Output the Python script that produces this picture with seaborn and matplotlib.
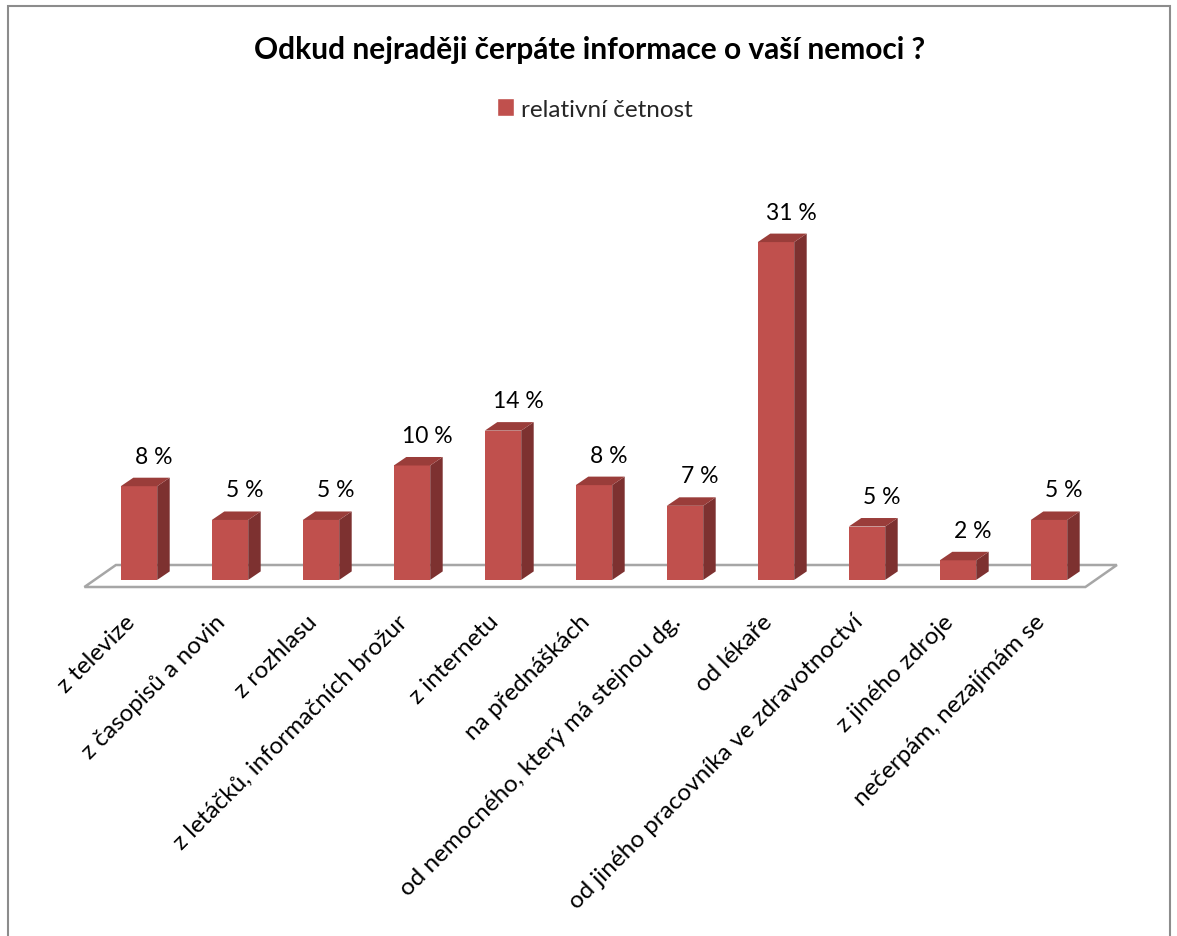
import matplotlib
matplotlib.use("Agg")
import matplotlib.pyplot as plt
import seaborn as sns
import pandas as pd
from matplotlib.patches import Polygon, Rectangle, Patch
from matplotlib.transforms import ScaledTranslation

categories = [
    "z televize",
    "z časopisů a novin",
    "z rozhlasu",
    "z letáčků, informačních brožur",
    "z internetu",
    "na přednáškách",
    "od nemocného, který má stejnou dg.",
    "od lékaře",
    "od jiného pracovníka ve zdravotnoctví",
    "z jiného zdroje",
    "nečerpám, nezajímám se",
]
values = [8.6, 5.5, 5.5, 10.5, 13.7, 8.7, 6.8, 31.0, 4.9, 1.8, 5.5]
value_labels = ["8 %", "5 %", "5 %", "10 %", "14 %", "8 %", "7 %", "31 %", "5 %", "2 %", "5 %"]
series_name = "relativní četnost"
title = "Odkud nejraději čerpáte informace o vaší nemoci ?"

FRONT = "#C0504D"
TOP = "#9A3D3A"
SIDE = "#7D3130"
GRID = "#A6A6A6"

sns.set_theme(style="white")
plt.rcParams["font.family"] = ["Lato", "DejaVu Sans"]

W, H = 1177, 937
fig = plt.figure(figsize=(W / 100, H / 100), dpi=100)
ax = fig.add_axes([84.4 / W, (H - 588) / H, 1001 / W, (588 - 221.3) / H])

df = pd.DataFrame({"cat": categories, "val": values})
sns.barplot(data=df, x="cat", y="val", color=FRONT, width=0.4, saturation=1,
            edgecolor="none", linewidth=0, ax=ax, zorder=3)
ax.set_xlim(-0.6, 10.4)
ax.set_ylim(-0.65, 33)

T = ax.transData
inv = T.inverted()

# floor (3D-looking plane)
fx0, fx1, fy = -0.6, 10.4, -0.65
fl = T.transform([(fx0, fy), (fx1, fy)])
fdx, fdy = 31.5, 22.0
floor_disp = [fl[0], fl[1], (fl[1][0] + fdx, fl[1][1] + fdy), (fl[0][0] + fdx, fl[0][1] + fdy)]
ax.add_patch(Polygon(inv.transform(floor_disp), closed=True, facecolor="white",
                     edgecolor=GRID, linewidth=1.8, zorder=1, clip_on=False))

# bar depth faces
ddx, ddy = 12.5, 8.5
for p, lab in zip(ax.patches[:len(values)], value_labels):
    x0, w, h = p.get_x(), p.get_width(), p.get_height()
    bl, br, tr, tl = T.transform([(x0, 0), (x0 + w, 0), (x0 + w, h), (x0, h)])
    side = [br, tr, (tr[0] + ddx, tr[1] + ddy), (br[0] + ddx, br[1] + ddy)]
    top = [tl, tr, (tr[0] + ddx, tr[1] + ddy), (tl[0] + ddx, tl[1] + ddy)]
    ax.add_patch(Polygon(inv.transform(side), closed=True, facecolor=SIDE,
                         edgecolor="none", zorder=3, clip_on=False))
    ax.add_patch(Polygon(inv.transform(top), closed=True, facecolor=TOP,
                         edgecolor="none", zorder=3, clip_on=False))
    ax.annotate(lab, xy=(x0 + w / 2, h), xytext=(15 * 0.72, 30 * 0.72),
                textcoords="offset points", ha="center", va="center",
                fontsize=16.5, color="black")

for s in ax.spines.values():
    s.set_visible(False)
ax.set_yticks([])
ax.set_xlabel("")
ax.set_ylabel("")
ax.tick_params(axis="x", length=0, pad=17, labelsize=17.5)
ax.set_xticks(range(len(categories)))
ax.set_xticklabels(categories, rotation=45, ha="right", rotation_mode="anchor")
for t in ax.get_xticklabels():
    t.set_transform(t.get_transform() + ScaledTranslation(-15 / 100, 0, fig.dpi_scale_trans))
    t.set_color("black")

fig.text(590 / W, 1 - 50 / H, title, ha="center", va="center", fontsize=21.5,
         fontweight="bold", color="black")
fig.legend(handles=[Patch(facecolor=FRONT, label=series_name)], loc="center",
           bbox_to_anchor=(595 / W, 1 - 110 / H), frameon=False, fontsize=17.5,
           handlelength=0.7, handleheight=0.7, handletextpad=0.3)

fig.patches.append(Rectangle((8 / W, -0.02), (1170 - 8) / W, 1 - 7 / H + 0.02,
                             transform=fig.transFigure, fill=False,
                             edgecolor="#8C8C8C", linewidth=1.5))

fig.savefig("out.png", dpi=100, facecolor="white")
